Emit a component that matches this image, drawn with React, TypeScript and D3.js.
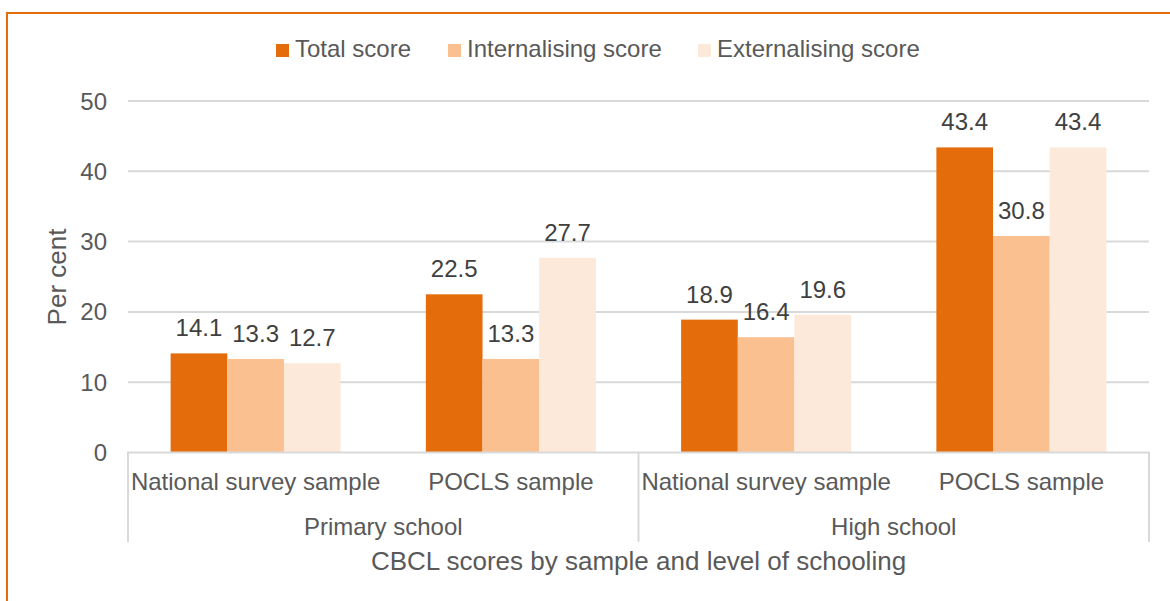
import React from "react";
import * as d3 from "d3";

const groups = ["Primary school", "High school"];
const categories = ["National survey sample", "POCLS sample", "National survey sample", "POCLS sample"];
const categoryGroup = [0, 0, 1, 1];
const seriesNames = ["Total score", "Internalising score", "Externalising score"];
const seriesColors = ["#E46C0A", "#FAC090", "#FDE9D9"];
const totalScore = [14.1, 22.5, 18.9, 43.4];
const internalisingScore = [13.3, 13.3, 16.4, 30.8];
const externalisingScore = [12.7, 27.7, 19.6, 43.4];
const yTicks = [0, 10, 20, 30, 40, 50];

const W = 1170;
const H = 601;
const X0 = 128;
const X1 = 1149;
const Y0 = 452.5;
const Y1 = 101;
const FONT = "'Liberation Sans', Arial, sans-serif";

export default function App() {
  const series = [totalScore, internalisingScore, externalisingScore];
  const idx = categories.map((_, i) => String(i));
  const x = d3.scaleBand<string>().domain(idx).range([X0, X1]).paddingInner(0.334).paddingOuter(0.167);
  const xs = d3.scaleBand<string>().domain(seriesNames).range([0, x.bandwidth()]).padding(0);
  const y = d3.scaleLinear().domain([0, 50]).range([Y0, Y1]);
  const step = x.step();
  const groupStart = (g: number) => X0 + categoryGroup.indexOf(g) * step;
  const groupEnd = (g: number) => X0 + (categoryGroup.lastIndexOf(g) + 1) * step;
  const legendX = [276, 448, 698];

  return (
    <svg width={W} height={H} style={{ position: "absolute", left: 0, top: 0 }} fontFamily={FONT}>
      <rect x={0} y={0} width={W} height={H} fill="#fff" />
      <rect x={7} y={13} width={W + 20} height={H + 20} fill="none" stroke="#E46C0A" strokeWidth={2} />
      {/* legend */}
      {seriesNames.map((s, i) => (
        <g key={s}>
          <rect x={legendX[i]} y={44} width={13} height={13} fill={seriesColors[i]} />
          <text x={legendX[i] + 19} y={57} fontSize={24} fill="#595959">{s}</text>
        </g>
      ))}
      {/* gridlines */}
      {yTicks.filter((t) => t > 0).map((t) => (
        <line key={t} x1={X0} x2={X1} y1={y(t)} y2={y(t)} stroke="#D9D9D9" strokeWidth={2} />
      ))}
      {yTicks.map((t) => (
        <text key={"l" + t} x={107} y={y(t) + 8.5} fontSize={24} fill="#595959" textAnchor="end">{t}</text>
      ))}
      <text transform={`translate(57,277) rotate(-90)`} fontSize={26} fill="#595959" textAnchor="middle" dominantBaseline="central">Per cent</text>
      {/* bars */}
      {categories.map((c, ci) => (
        <g key={ci}>
          {series.map((vals, si) => {
            const bx = (x(String(ci)) as number) + (xs(seriesNames[si]) as number);
            const by = y(vals[ci]);
            return (
              <g key={si}>
                <rect x={bx} y={by} width={xs.bandwidth()} height={Y0 - by} fill={seriesColors[si]} />
                <text x={bx + xs.bandwidth() / 2} y={by - 17} fontSize={24} fill="#404040" textAnchor="middle">{vals[ci].toFixed(1)}</text>
              </g>
            );
          })}
        </g>
      ))}
      {/* axis */}
      <line x1={X0 - 1} x2={X1 + 1} y1={Y0} y2={Y0} stroke="#D9D9D9" strokeWidth={2} />
      {[0, 1].map((g) => (
        <line key={"s" + g} x1={groupStart(g)} x2={groupStart(g)} y1={Y0} y2={542} stroke="#D9D9D9" strokeWidth={2} />
      ))}
      <line x1={groupEnd(1)} x2={groupEnd(1)} y1={Y0} y2={542} stroke="#D9D9D9" strokeWidth={2} />
      {categories.map((c, ci) => (
        <text key={"c" + ci} x={(x(String(ci)) as number) + x.bandwidth() / 2} y={490} fontSize={24} fill="#595959" textAnchor="middle">{c}</text>
      ))}
      {groups.map((g, gi) => (
        <text key={g} x={(groupStart(gi) + groupEnd(gi)) / 2} y={535} fontSize={24} fill="#595959" textAnchor="middle">{g}</text>
      ))}
      <text x={(X0 + X1) / 2} y={570} fontSize={26} fill="#595959" textAnchor="middle">CBCL scores by sample and level of schooling</text>
    </svg>
  );
}
